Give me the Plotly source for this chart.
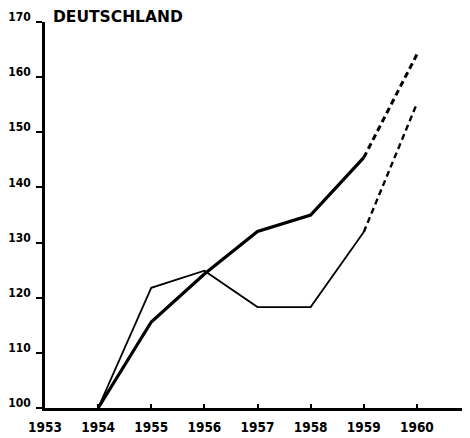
import plotly.graph_objects as go

years = [1954, 1955, 1956, 1957, 1958, 1959]
proj_years = [1959, 1960]
series_a = [100, 115.6, 124.3, 132.0, 135, 145.4]
series_a_proj = [145.4, 164.1]
series_b = [100, 121.8, 124.9, 118.3, 118.3, 131.9]
series_b_proj = [131.9, 155.2]
x_ticks = [1953, 1954, 1955, 1956, 1957, 1958, 1959, 1960]
y_ticks = [100, 110, 120, 130, 140, 150, 160, 170]
title_text = "DEUTSCHLAND"

font_fam = "DejaVu Sans Condensed, DejaVu Sans, sans-serif"

fig = go.Figure()
fig.add_trace(go.Scatter(x=years, y=series_a, mode="lines",
                         line=dict(color="black", width=3.2), showlegend=False))
fig.add_trace(go.Scatter(x=proj_years, y=series_a_proj, mode="lines",
                         line=dict(color="black", width=3, dash="6px,4px"), showlegend=False))
fig.add_trace(go.Scatter(x=years, y=series_b, mode="lines",
                         line=dict(color="black", width=1.8), showlegend=False))
fig.add_trace(go.Scatter(x=proj_years, y=series_b_proj, mode="lines",
                         line=dict(color="black", width=2.4, dash="6px,4px"), showlegend=False))

fig.update_layout(
    width=462, height=430,
    margin=dict(l=37, r=0, t=14, b=30, autoexpand=False),
    paper_bgcolor="white", plot_bgcolor="white",
    font=dict(family=font_fam, color="black", size=13),
    xaxis=dict(range=[1953, 1961], tickvals=x_ticks, ticktext=[str(v) for v in x_ticks],
               showgrid=False, zeroline=False, showline=True, linecolor="black", linewidth=2.5,
               ticks="inside", ticklen=4, tickwidth=2, tickcolor="black", automargin=False,
               ticklabelstandoff=5,
               tickfont=dict(family=font_fam, size=13.5, color="black", weight="bold")),
    yaxis=dict(range=[100, 170], tickvals=y_ticks, ticktext=[str(v) for v in y_ticks],
               showgrid=False, zeroline=False, showline=True, linecolor="black", linewidth=2.5,
               ticks="outside", ticklen=6, tickwidth=1.5, tickcolor="black", automargin=False,
               ticklabelshift=-5, ticklabelstandoff=3,
               tickfont=dict(family=font_fam, size=12, color="black", weight="bold")),
    annotations=[dict(text="<b>" + title_text + "</b>", x=0.015, y=1.0, xref="paper", yref="paper",
                      xanchor="left", yanchor="middle", yshift=5, showarrow=False,
                      font=dict(family="DejaVu Sans, sans-serif", size=15.5, color="black"))],
)
fig.write_html("out.html")
